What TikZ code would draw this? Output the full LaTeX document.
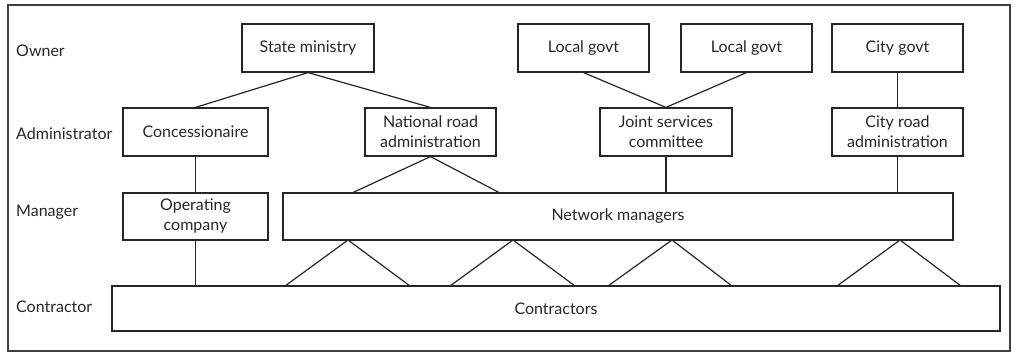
\documentclass[tikz,border=0pt]{standalone}
\usepackage{fontspec}
\setmainfont{Lato}
\begin{document}
\begin{tikzpicture}[x=1pt,y=-1pt,
  every node/.style={font=\fontsize{16}{20}\selectfont, text=black!85},
  box/.style={draw=black!85, line width=1.2pt, inner sep=0pt, align=center, minimum height=48pt},
  lab/.style={anchor=west, inner sep=0pt},
  conn/.style={draw=black!85, line width=1.2pt}]
\useasboundingbox (0,0) rectangle (1014,352);
\draw[black!75, line width=1.2pt] (8,5) rectangle (1010,351);
% level labels
\node[lab] (lOwner) at (16,51) {Owner};
\node[lab] (lAdmin) at (16,134) {Administrator};
\node[lab] (lMan) at (16,212) {Manager};
\node[lab] (lCon) at (16,307) {Contractor};
% owners
\node[box, minimum width=132pt] (sm) at (308,48) {State ministry};
\node[box, minimum width=131pt] (lg1) at (583.5,48) {Local govt};
\node[box, minimum width=131pt] (lg2) at (746.5,48) {Local govt};
\node[box, minimum width=131pt] (cg) at (897.5,48) {City govt};
% administrators
\node[box, minimum width=145pt] (con) at (195.5,132) {Concessionaire};
\node[box, minimum width=131pt] (nra) at (430.5,132) {National road\\administration};
\node[box, minimum width=132pt] (jsc) at (666,132) {Joint services\\committee};
\node[box, minimum width=131pt] (cra) at (897.5,132) {City road\\administration};
% managers
\node[box, minimum width=145pt, minimum height=47pt] (oc) at (195.5,216.5) {Operating\\company};
\node[box, minimum width=670pt, minimum height=47pt] (nm) at (618,216.5) {Network managers};
% contractors
\node[box, minimum width=888pt, minimum height=45pt] (ct) at (556,308.5) {Contractors};
% connection points
\coordinate (nmL) at (352,193);
\coordinate (nmR) at (500,193);
\coordinate (t1) at (348,240);
\coordinate (t2) at (513,240);
\coordinate (t3) at (672,240);
\coordinate (t4) at (900,240);
\coordinate (b1a) at (285,286);
\coordinate (b1b) at (410,286);
\coordinate (b2a) at (450,286);
\coordinate (b2b) at (575,286);
\coordinate (b3a) at (608,286);
\coordinate (b3b) at (732,286);
\coordinate (b4a) at (837,286);
\coordinate (b4b) at (961,286);
% connectors
\draw[conn] (con.north) -- (sm.south) -- (nra.north);
\draw[conn] (lg1.south) -- (jsc.north) -- (lg2.south);
\draw[conn] (cg.south) -- (cra.north);
\draw[conn] (con.south) -- (oc.north);
\draw[conn] (nmL) -- (nra.south) -- (nmR);
\draw[conn] (jsc.south) -- (jsc.south |- nm.north);
\draw[conn] (cra.south) -- (cra.south |- nm.north);
\draw[conn] (oc.south) -- (oc.south |- ct.north);
\draw[conn] (b1a) -- (t1) -- (b1b);
\draw[conn] (b2a) -- (t2) -- (b2b);
\draw[conn] (b3a) -- (t3) -- (b3b);
\draw[conn] (b4a) -- (t4) -- (b4b);
\end{tikzpicture}
\end{document}
